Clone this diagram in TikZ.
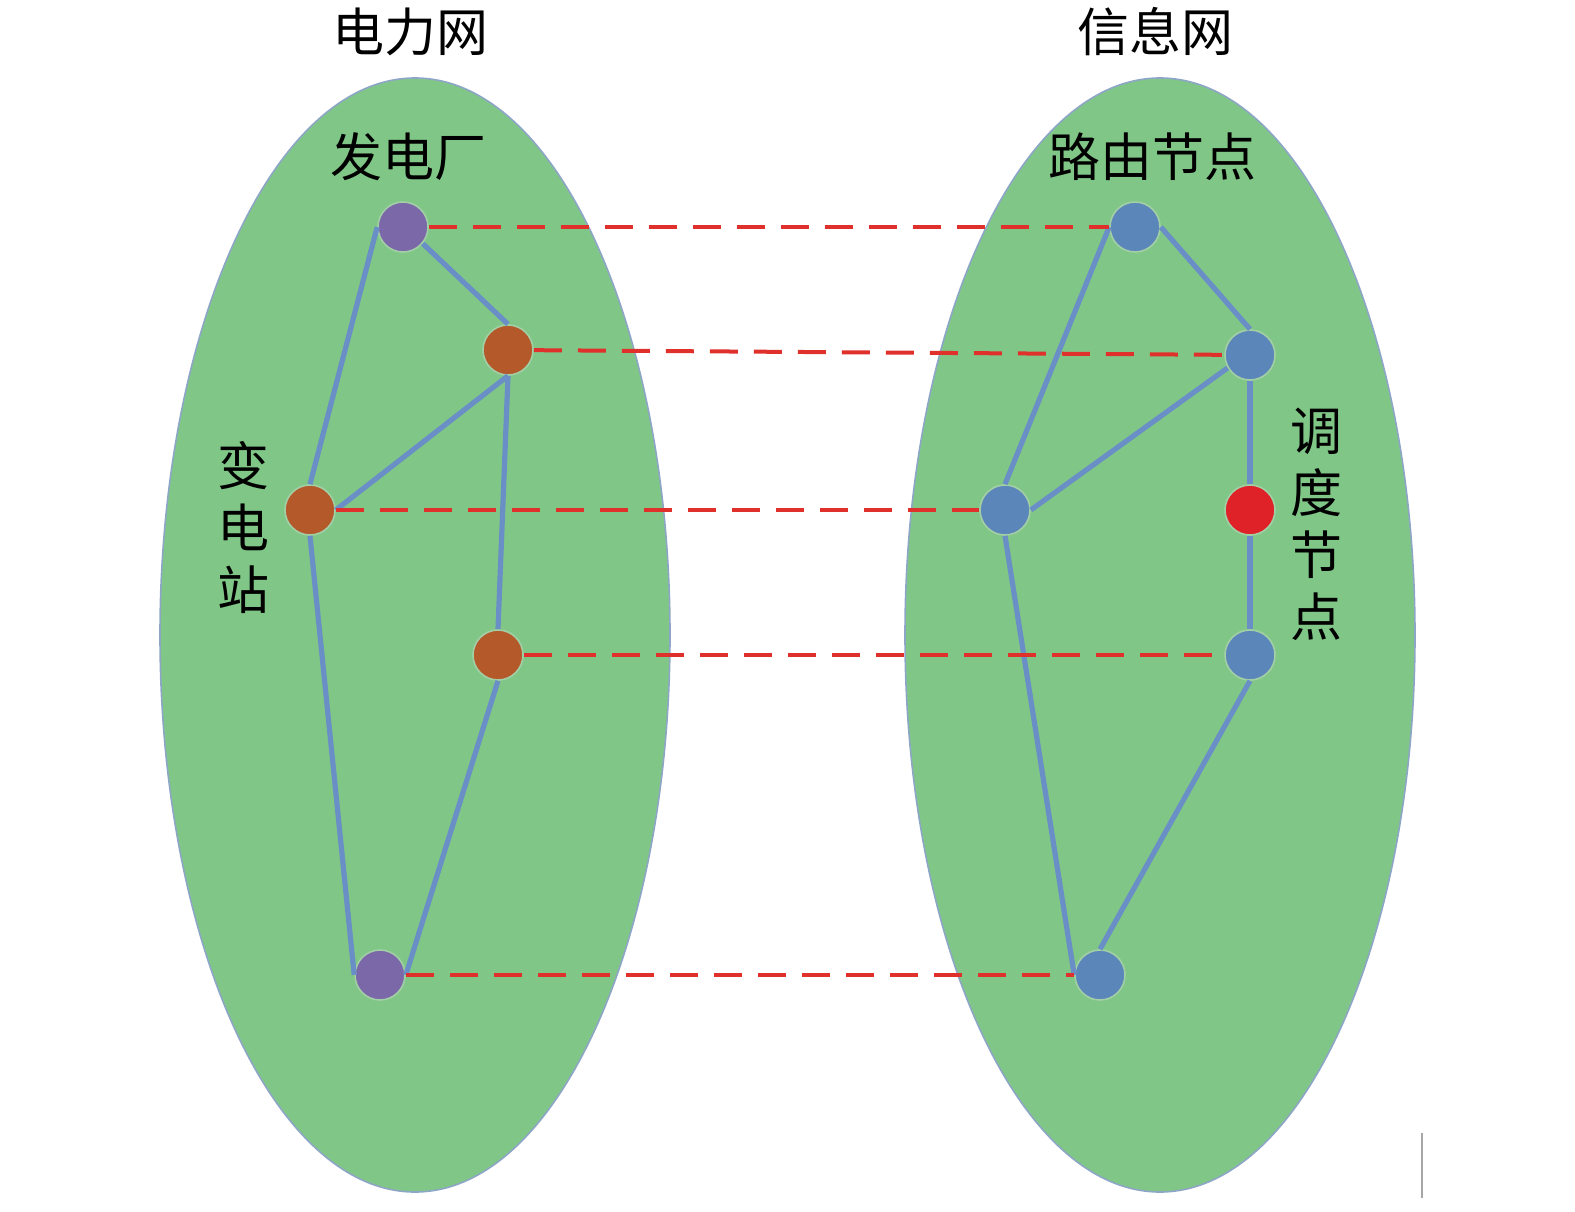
\documentclass[tikz,border=0pt]{standalone}
\usepackage{fontspec}
\newfontfamily\cjk{Noto Sans CJK SC}
\begin{document}
\begin{tikzpicture}[x=0.5pt,y=-0.5pt,
  net/.style={fill=netgreen,draw=rimblue,line width=0.8pt},
  vertex/.style={circle,minimum size=25pt,inner sep=0pt,draw=halo,line width=0.8pt},
  pnode/.style={vertex,fill=nodepurple},
  onode/.style={vertex,fill=nodeorange},
  bnode/.style={vertex,fill=nodeblue},
  rnode/.style={vertex,fill=nodered},
  link/.style={draw=linkblue,line width=2.6pt},
  couple/.style={draw=dashred,line width=2pt,dash pattern=on 14pt off 8pt},
  lbl/.style={font=\cjk\fontsize{26pt}{31pt}\selectfont,text=black,inner sep=0pt,align=center}
]
\definecolor{netgreen}{HTML}{80C787}
\definecolor{rimblue}{HTML}{8EA6C6}
\definecolor{halo}{HTML}{A3CFA6}
\definecolor{nodepurple}{HTML}{7B68A8}
\definecolor{nodeorange}{HTML}{B3592A}
\definecolor{nodeblue}{HTML}{5B86B9}
\definecolor{nodered}{HTML}{DE2228}
\definecolor{linkblue}{HTML}{6A8FC6}
\definecolor{dashred}{HTML}{E0302C}

\useasboundingbox (0,0) rectangle (1575,1211);

% ellipses
\path[net] (415,635) ellipse [x radius=255, y radius=557];
\path[net] (1160,635) ellipse [x radius=255, y radius=557];

% left nodes
\node[pnode] (A) at (403,227) {};
\node[onode] (B) at (508,350) {};
\node[onode] (C) at (310,510) {};
\node[onode] (D) at (498,655) {};
\node[pnode] (E) at (380,975) {};

% right nodes
\node[bnode] (F) at (1135,227) {};
\node[bnode] (G) at (1250,355) {};
\node[bnode] (H) at (1005,510) {};
\node[rnode] (R) at (1250,510) {};
\node[bnode] (I) at (1250,655) {};
\node[bnode] (J) at (1100,975) {};

% edges
\draw[link] (A.-40) -- (B.north);
\draw[link] (A.west) -- (C.north);
\draw[link] (B.south) -- (C.east);
\draw[link] (B.south) -- (D.north);
\draw[link] (C.south) -- (E.west);
\draw[link] (D.south) -- (E.east);
\draw[link] (F.east) -- (G.north);
\draw[link] (F.west) -- (H.north);
\draw[link] (G.210) -- (H.east);
\draw[link] (G.south) -- (R.north);
\draw[link] (R.south) -- (I.north);
\draw[link] (H.south) -- (J.west);
\draw[link] (I.south) -- (J.north);

% coupling
\draw[couple] (A) -- (F);
\draw[couple] (B) -- (G);
\draw[couple] (C) -- (H);
\draw[couple] (D) -- (I);
\draw[couple] (E) -- (J);

% labels
\node[lbl] (t1) at (410,32) {电力网};
\node[lbl] (t2) at (1155,32) {信息网};
\node[lbl] (l1) at (408,157) {发电厂};
\node[lbl] (l2) at (1152,157) {路由节点};
\node[lbl] (l3) at (243,527) {变\\电\\站};
\node[lbl] (l4) at (1316,524) {调\\度\\节\\点};

% stray mark
\draw[gray!70,line width=0.6pt] (1422,1133) -- (1422,1198);
\end{tikzpicture}
\end{document}
